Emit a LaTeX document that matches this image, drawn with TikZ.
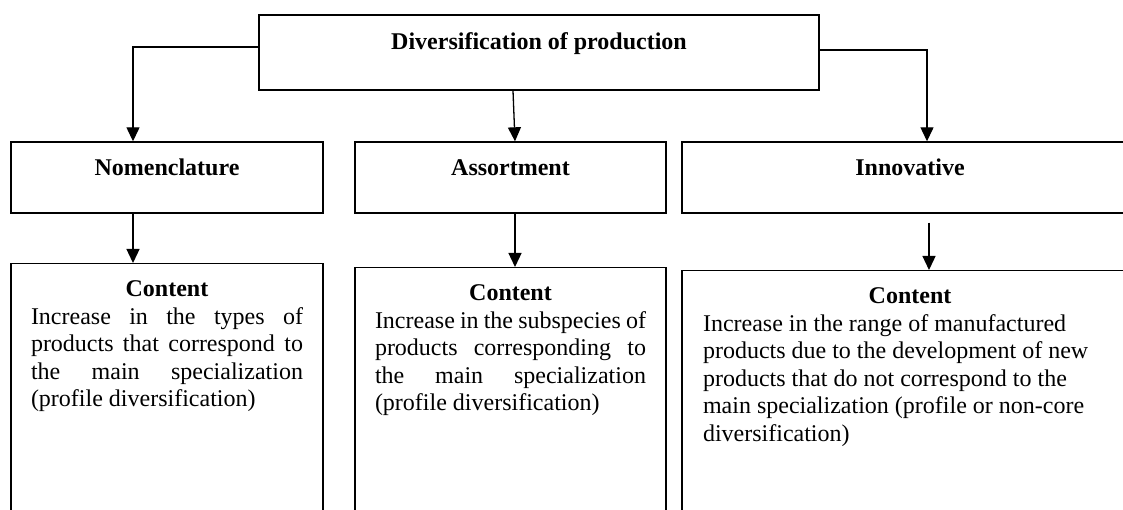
\documentclass[tikz,border=0pt]{standalone}
\usepackage{fontspec}
\setmainfont{Liberation Serif}
\usepackage{tikz}
\usetikzlibrary{arrows.meta}
\usetikzlibrary{calc}
\hyphenpenalty=10000

\begin{document}
\begin{tikzpicture}[x=1pt, y=1pt,
		font=\fontsize{24}{27.6}\selectfont,
		headbox/.style={draw, line width=1.4pt, minimum height=71pt, text height=17pt, text depth=20pt, font=\fontsize{24}{27.6}\selectfont\bfseries},
		textbox/.style={draw, line width=1.4pt, anchor=north, align=justify, inner xsep=20pt, inner ysep=17pt, text depth=300pt},
		arr/.style={-{Triangle[width=13pt,length=14pt]}, line width=1.3pt}]
		\path[use as bounding box] (0,0) rectangle (1123,-510);
		\clip (0,0) rectangle (1123,-510);
		%top
		\node[headbox, line width=1.8pt, minimum width=560pt, minimum height=75pt, text depth=23pt] (div) at (539,-52.5) {Diversification of production};
		%\node[headbox] (nom) at (167,-177.5) {Nomenclature};
		\node[headbox, minimum width=312pt] (nom) at (167,-177.5) {Nomenclature};
		\node[headbox, minimum width=311pt] (asr) at (510.5,-177.5) {Assortment};
		\node[headbox, minimum width=456pt] (inn) at (910,-177.5) {Innovative};
		%content
		\node[textbox, text width=272pt] (cnom) at (167,-263)
			{{\centering\bfseries Content\par}Increase in the types of\linebreak products that correspond to\linebreak the main specialization\linebreak (profile diversification)};
		\node[textbox, text width=271pt] (cas) at (510.5,-267)
			{{\centering\bfseries Content\par}Increase in the subspecies of\linebreak products corresponding to\linebreak the main specialization\linebreak (profile diversification)};
		\node[textbox, text width=414pt, inner xsep=21pt] (cin) at (910,-270)
			{{\centering\bfseries Content\par}Increase in the range of manufactured\\ products due to the development of new\\ products that do not correspond to the\\ main specialization (profile or non-core\\ diversification)};
		\draw[arr] ([yshift=5.5pt]div.west) -| ([xshift=-34pt]nom.north);
		\draw[arr] ([yshift=2.5pt]div.east) -| ([xshift=17pt]inn.north);
		\draw[arr] ([xshift=-26pt]div.south) -- ([xshift=4.5pt]asr.north);
		\draw[arr] ([xshift=-34pt]nom.south) -- ([xshift=-34pt]cnom.north);
		\draw[arr] ([xshift=4.5pt]asr.south) -- ([xshift=4.5pt]cas.north);
		\draw[arr] ([xshift=19pt,yshift=-9pt]inn.south) -- ([xshift=19pt]cin.north);
\end{tikzpicture}
\end{document}
